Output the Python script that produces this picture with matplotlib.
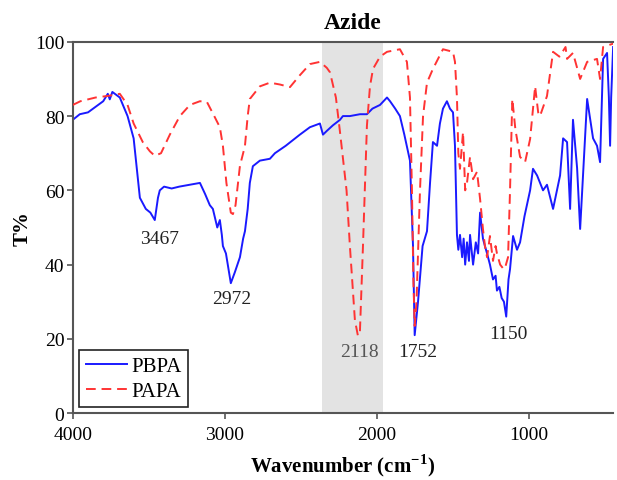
import matplotlib; matplotlib.use("Agg")
import matplotlib.pyplot as plt, numpy as np

plt.rcParams.update({"font.family": "serif", "font.serif": ["Liberation Serif", "DejaVu Serif"]})

# FTIR spectra: (wavenumber cm-1, transmittance %)
pbpa_wn = [4000, 3954, 3900, 3850, 3800, 3770, 3757, 3740, 3691, 3640, 3600, 3559, 3520, 3490, 3461, 3440,
           3428, 3400, 3350, 3300, 3230, 3164, 3130, 3099, 3079, 3050, 3033, 3020, 3013, 2993, 2961, 2934,
           2901, 2880, 2868, 2850, 2836, 2816, 2770, 2704, 2671, 2600, 2507, 2441, 2375, 2355, 2330, 2290,
           2243, 2224, 2178, 2112, 2066, 2030, 1980, 1934, 1914, 1880, 1849, 1820, 1783, 1763, 1752, 1730,
           1700, 1671, 1651, 1632, 1605, 1586, 1566, 1540, 1520, 1500, 1487, 1474, 1465, 1454, 1440, 1430,
           1420, 1408, 1395, 1388, 1368, 1350, 1335, 1322, 1303, 1290, 1276, 1257, 1237, 1220, 1211, 1195,
           1180, 1165, 1150, 1135, 1125, 1105, 1079, 1059, 1030, 993, 974, 947, 908, 882, 842, 796, 776,
           750, 730, 711, 684, 664, 618, 579, 553, 533, 513, 487, 475, 467, 460, 447]
pbpa_t = [79, 80.5, 81, 82.5, 84, 86, 84.5, 86.5, 85, 80, 74, 58, 55, 54, 52, 58,
          60, 61, 60.5, 61, 61.5, 62, 59, 56, 55, 50, 52, 48, 45, 43, 35, 38,
          42, 47, 49, 55, 62, 66.5, 68, 68.5, 70, 72, 75, 77, 78, 75, 76, 77.5,
          79, 80, 80, 80.5, 80.5, 82, 83, 85, 84, 82, 80, 75, 68, 45, 21, 30,
          45, 49, 62, 73, 72, 78, 82, 84, 82, 81, 72, 48, 44, 48, 42, 47,
          40, 46, 41, 48, 40, 46, 43, 54, 47, 45, 43, 40, 36, 37, 33, 34,
          31, 30, 26, 36, 38.8, 47.7, 44, 46, 53, 60, 65.8, 64, 60, 61.5, 55, 64, 74,
          73, 55, 79, 66, 49.6, 84.6, 74, 72, 67.6, 95.4, 97, 85, 72, 85, 98.6]

papa_wn = [4000, 3950, 3850, 3757, 3691, 3640, 3600, 3540, 3493, 3461, 3420, 3362, 3296, 3230, 3164, 3118,
           3070, 3033, 3013, 2990, 2961, 2947, 2930, 2901, 2880, 2868, 2850, 2836, 2770, 2704, 2638, 2572,
           2507, 2441, 2375, 2330, 2309, 2270, 2243, 2200, 2178, 2145, 2125, 2112, 2092, 2066, 2046, 2026,
           1980, 1934, 1849, 1803, 1783, 1770, 1760, 1752, 1740, 1717, 1697, 1671, 1632, 1566, 1500, 1487,
           1474, 1465, 1454, 1434, 1420, 1408, 1388, 1368, 1342, 1322, 1303, 1290, 1276, 1257, 1237, 1220,
           1211, 1190, 1171, 1160, 1138, 1125, 1110, 1090, 1059, 1026, 993, 960, 940, 928, 882, 842, 800,
           760, 750, 711, 664, 618, 553, 533, 513, 447]
papa_t = [83, 84, 85, 85.5, 86, 83, 78, 73, 70.5, 69.3, 70, 75, 80, 83, 84, 83.8,
          80, 77, 72, 62, 54, 53.6, 56, 66.6, 70, 72, 80, 84.6, 88, 89, 88.5, 87.8,
          91, 94, 94.6, 93, 91.8, 85, 75.7, 60, 45, 25, 20.8, 22, 45, 77.4, 88, 92.7,
          96, 97.3, 98, 94.6, 85, 60, 35, 23.5, 30, 60, 80, 89, 92.7, 98, 97.3, 94.6,
          85, 70, 65.8, 75.7, 60, 62, 69, 63, 65, 57.7, 49.6, 45, 42, 47.7, 41, 45,
          43, 40, 39, 38.8, 42, 60, 84.6, 76.5, 69, 67.6, 73.8, 88, 81, 80, 85.4, 97.3, 96,
          98.6, 95.4, 97, 90, 94.6, 95.4, 90, 98.6, 99.5]

peak_lbls = ["3467", "2972", "2118", "1752", "1150"]
peak_lbl_wn = [3430, 2954, 2112, 1730, 1138]
peak_lbl_t = [47, 31, 16.5, 16.5, 21.5]
peak_colors = ["#222222", "#222222", "#555555", "#222222", "#222222"]

fig = plt.figure(figsize=(6.17, 4.81), dpi=100)
ax = fig.add_axes([0.118, 0.139, 0.875, 0.772])
ax.axvspan(2360, 1960, color="#e3e3e3", lw=0, zorder=0)
ax.plot(pbpa_wn, pbpa_t, color="#1a1aff", lw=1.4, label="PBPA", zorder=2)
ax.plot(papa_wn, papa_t, color="#ff3333", lw=1.4, ls=(0, (5, 3)), label="PAPA", zorder=3)
for s, w, t, c in zip(peak_lbls, peak_lbl_wn, peak_lbl_t, peak_colors):
    ax.text(w, t, s, ha="center", va="center", fontsize=14, color=c)
ax.text(2160, 102.3, "Azide", ha="center", va="bottom", fontsize=17, fontweight="bold", clip_on=False)

ax.set_xlim(4000, 450); ax.set_ylim(0, 100)
ax.set_xticks([4000, 3000, 2000, 1000]); ax.set_yticks(range(0, 101, 20))
ax.tick_params(direction="out", length=4, width=1.2, color="#555555", labelsize=14, pad=2)
ax.tick_params(axis="x", pad=5)
ax.set_xlabel("Wavenumber (cm$^{\\mathregular{-1}}$)", fontsize=15, fontweight="bold", labelpad=6)
ax.set_ylabel("T%", fontsize=15, fontweight="bold", labelpad=2)
ax.spines["right"].set_visible(False)
for s in ("top", "left", "bottom"):
    ax.spines[s].set_color("#555555"); ax.spines[s].set_linewidth(1.5)
leg = ax.legend(loc="lower left", bbox_to_anchor=(0.012, 0.016), borderaxespad=0, fontsize=15,
                handlelength=2.0, handletextpad=0.2, borderpad=0.3, labelspacing=0.25,
                fancybox=False, framealpha=1)
leg.get_frame().set_edgecolor("#222222"); leg.get_frame().set_linewidth(1.2)
fig.savefig("out.png", dpi=100)
